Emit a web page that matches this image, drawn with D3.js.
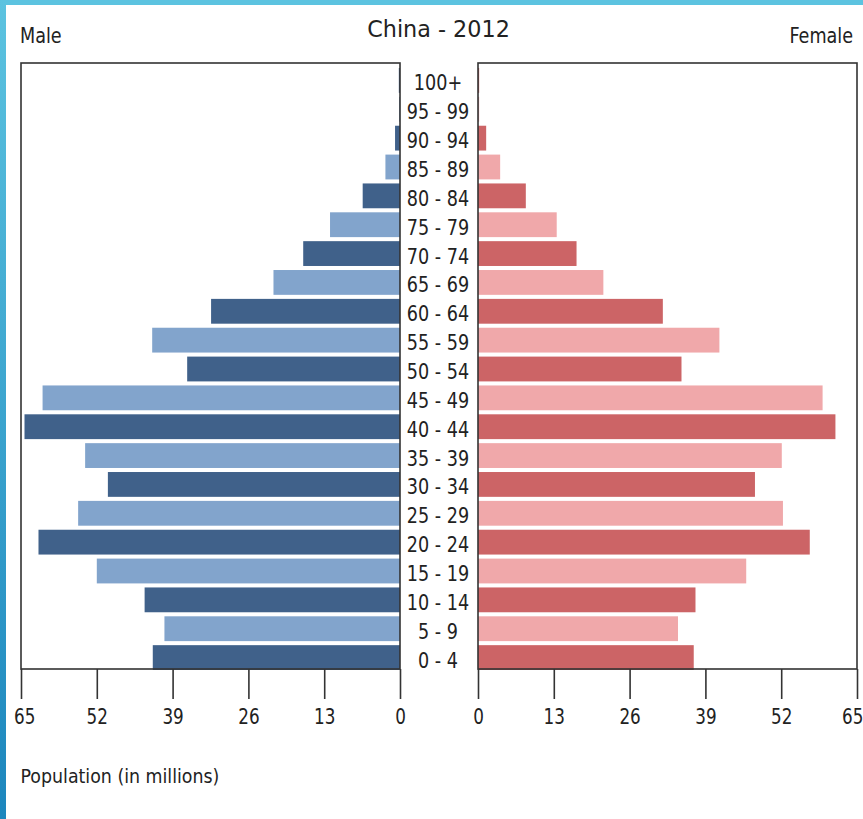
<!DOCTYPE html>
<html>
<head>
<meta charset="utf-8">
<script src="https://cdn.jsdelivr.net/npm/d3@7/dist/d3.min.js"></script>
<style>
  html, body { margin: 0; padding: 0; background: #fff; }
  svg { display: block; }
  text { font-family: "DejaVu Sans", sans-serif; fill: #222; }
</style>
</head>
<body>
<svg id="chart" width="863" height="819"></svg>
<script>
// Population of China in 2012 by five-year age group (millions)
const ageGroups = ["0 - 4", "5 - 9", "10 - 14", "15 - 19", "20 - 24", "25 - 29", "30 - 34",
  "35 - 39", "40 - 44", "45 - 49", "50 - 54", "55 - 59", "60 - 64", "65 - 69", "70 - 74",
  "75 - 79", "80 - 84", "85 - 89", "90 - 94", "95 - 99", "100+"];
const maleValues = [42.4, 40.4, 43.8, 52.0, 62.0, 55.2, 50.1, 54.0, 64.4, 61.3, 36.5,
  42.5, 32.4, 21.7, 16.6, 12.0, 6.4, 2.5, 0.85, 0.15, 0.2];
const femaleValues = [37.0, 34.3, 37.3, 46.0, 56.9, 52.3, 47.5, 52.1, 61.3, 59.1, 34.9,
  41.4, 31.7, 21.5, 16.9, 13.5, 8.2, 3.8, 1.4, 0.2, 0.2];
const tickValues = [0, 13, 26, 39, 52, 65];

const svg = d3.select("#chart");
const W = 863;

// slide frame: blue strip along the top and left edges
const defs = svg.append("defs");
const grad = defs.append("linearGradient").attr("id", "edge")
  .attr("x1", 0).attr("y1", 0).attr("x2", 0).attr("y2", 1);
grad.append("stop").attr("offset", "0%").attr("stop-color", "#5cc3e0");
grad.append("stop").attr("offset", "100%").attr("stop-color", "#1c86bd");
svg.append("rect").attr("x", 0).attr("y", 0).attr("width", W).attr("height", 5).attr("fill", "#5cc3e0");
svg.append("rect").attr("x", 0).attr("y", 0).attr("width", 6).attr("height", 819).attr("fill", "url(#edge)");

const plotTop = 63, plotBottom = 669;
const maleLeft = 21, maleRight = 400, femLeft = 478, femRight = 857;

const y = d3.scaleBand()
  .domain(ageGroups.slice().reverse())
  .range([plotTop + 3, plotBottom + 3])
  .paddingInner(0.14)
  .paddingOuter(0.07);

const xMale = d3.scaleLinear().domain([0, 65]).range([maleRight, maleLeft]);
const xFem = d3.scaleLinear().domain([0, 65]).range([femLeft, femRight]);

const colors = {
  male: ["#40618a", "#82a4cc"],
  female: ["#cc6466", "#f0a8aa"]
};

const rows = ageGroups.map((g, i) => ({ g, i, m: maleValues[i], f: femaleValues[i] }));

// bars
svg.append("g").selectAll("rect").data(rows).join("rect")
  .attr("x", d => xMale(d.m))
  .attr("y", d => y(d.g))
  .attr("width", d => xMale(0) - xMale(d.m))
  .attr("height", y.bandwidth())
  .attr("fill", d => colors.male[d.i % 2]);

svg.append("g").selectAll("rect").data(rows).join("rect")
  .attr("x", xFem(0))
  .attr("y", d => y(d.g))
  .attr("width", d => xFem(d.f) - xFem(0))
  .attr("height", y.bandwidth())
  .attr("fill", d => colors.female[d.i % 2]);

// panel frames
[[maleLeft, maleRight], [femLeft, femRight]].forEach(([a, b]) => {
  svg.append("rect")
    .attr("x", a).attr("y", plotTop)
    .attr("width", b - a).attr("height", plotBottom - plotTop)
    .attr("fill", "none").attr("stroke", "#333").attr("stroke-width", 1.6);
});

// age group labels
svg.append("g").selectAll("text").data(rows).join("text")
  .attr("transform", d => `translate(438, ${y(d.g) + y.bandwidth() / 2 + 10}) scale(0.8,1)`)
  .attr("text-anchor", "middle")
  .attr("font-size", 22)
  .text(d => d.g);

// bottom axes; the outermost labels are nudged inward to stay on the page
function styleAxis(inward) {
  return g => {
    g.select(".domain").remove();
    g.selectAll(".tick line").attr("stroke", "#333").attr("stroke-width", 1.6);
    g.selectAll(".tick text")
      .attr("font-size", 21)
      .attr("font-family", "DejaVu Sans, sans-serif")
      .attr("fill", "#222")
      .attr("x", d => (d === 65 ? inward : 0))
      .attr("transform", "scale(0.8,1)");
  };
}
svg.append("g").attr("transform", `translate(0,${plotBottom})`)
  .call(d3.axisBottom(xMale).tickValues(tickValues).tickSize(30).tickSizeOuter(0).tickPadding(10))
  .call(styleAxis(4));
svg.append("g").attr("transform", `translate(0,${plotBottom})`)
  .call(d3.axisBottom(xFem).tickValues(tickValues).tickSize(30).tickSizeOuter(0).tickPadding(10))
  .call(styleAxis(-6));

// titles
svg.append("text").attr("transform", "translate(438.5,37) scale(0.97,1)")
  .attr("text-anchor", "middle").attr("font-size", 23).text("China - 2012");
svg.append("text").attr("transform", "translate(20,43) scale(0.8,1)")
  .attr("font-size", 22).text("Male");
svg.append("text").attr("transform", "translate(853,43) scale(0.8,1)")
  .attr("text-anchor", "end").attr("font-size", 22).text("Female");
svg.append("text").attr("transform", "translate(20.5,783) scale(0.87,1)")
  .attr("font-size", 20).text("Population (in millions)");
</script>
</body>
</html>
